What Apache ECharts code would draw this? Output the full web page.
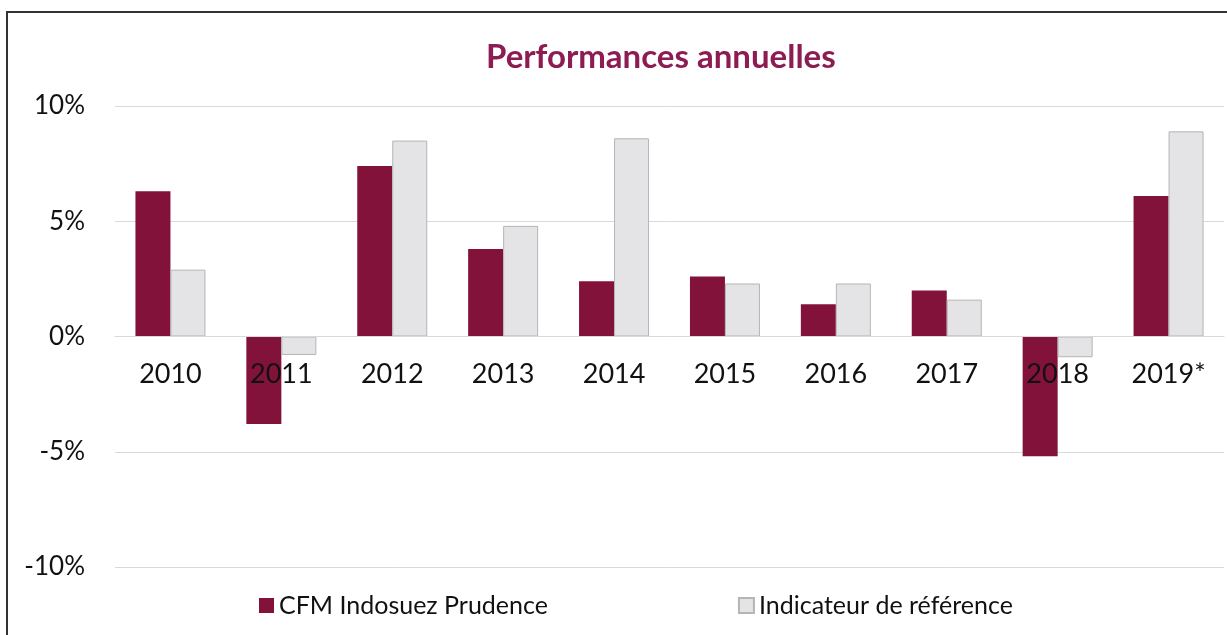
<!DOCTYPE html>
<html>
<head>
<meta charset="utf-8">
<script src="https://cdn.jsdelivr.net/npm/echarts@6/dist/echarts.min.js"></script>
<style>
  html, body { margin: 0; padding: 0; background: #fff; }
  #frame { position: absolute; left: 6px; top: 11px; width: 1230px; height: 640px; border: 2px solid #333; border-right: none; border-bottom: none; }
  #chart { position: absolute; left: 0; top: 0; width: 1227px; height: 635px; }
</style>
</head>
<body>
<div id="frame"></div>
<div id="chart"></div>
<script>
// donnees
const years = ['2010', '2011', '2012', '2013', '2014', '2015', '2016', '2017', '2018', '2019*'];
const fundPerf = [6.3, -3.8, 7.4, 3.8, 2.4, 2.6, 1.4, 2.0, -5.2, 6.1];
const benchPerf = [2.9, -0.8, 8.5, 4.8, 8.6, 2.3, 2.3, 1.6, -0.9, 8.9];
const yTicks = [-10, -5, 0, 5, 10];

const font = 'Lato, "Open Sans", sans-serif';
let myChart = echarts.init(document.getElementById('chart'));

// grille : 10% a y=106, -10% a y=567 -> 0% a mi-hauteur
const gridTop = 106, gridBottom = 68;
const plotH = 635 - gridTop - gridBottom;

let option = {
  backgroundColor: 'transparent',
  textStyle: { fontFamily: font },
  title: {
    text: 'Performances annuelles',
    left: 481,
    top: 36,
    textStyle: { fontSize: 33, fontWeight: 'bold', color: '#8c1c52', fontFamily: font }
  },
  legend: {
    bottom: 12,
    left: 254,
    itemGap: 190,
    itemWidth: 15,
    itemHeight: 15,
    icon: 'rect',
    textStyle: { fontSize: 25, color: '#111', fontFamily: font },
    data: ['CFM Indosuez Prudence', 'Indicateur de référence']
  },
  grid: { left: 115, right: 3, top: gridTop, bottom: gridBottom },
  xAxis: {
    type: 'category',
    data: years,
    offset: -plotH / 2,
    z: 10,
    axisLine: { show: true, onZero: false, lineStyle: { color: '#d9d9d9', width: 1 } },
    axisTick: { show: false },
    axisLabel: { fontSize: 27, color: '#111', margin: 24, fontFamily: font }
  },
  yAxis: {
    type: 'value',
    min: yTicks[0],
    max: yTicks[yTicks.length - 1],
    interval: 5,
    axisLine: { show: false },
    axisTick: { show: false },
    splitLine: { lineStyle: { color: '#d9d9d9', width: 1 } },
    axisLabel: { fontSize: 26, color: '#111', margin: 30, formatter: '{value}%', fontFamily: font }
  },
  series: [
    {
      name: 'CFM Indosuez Prudence',
      type: 'bar',
      data: fundPerf,
      barWidth: 35,
      barGap: '0%',
      itemStyle: { color: '#82123a' }
    },
    {
      name: 'Indicateur de référence',
      type: 'bar',
      data: benchPerf,
      barWidth: 35,
      itemStyle: { color: '#e4e4e6', borderColor: '#b5b5b5', borderWidth: 1 }
    }
  ]
};

option && myChart.setOption(option);
</script>
</body>
</html>
